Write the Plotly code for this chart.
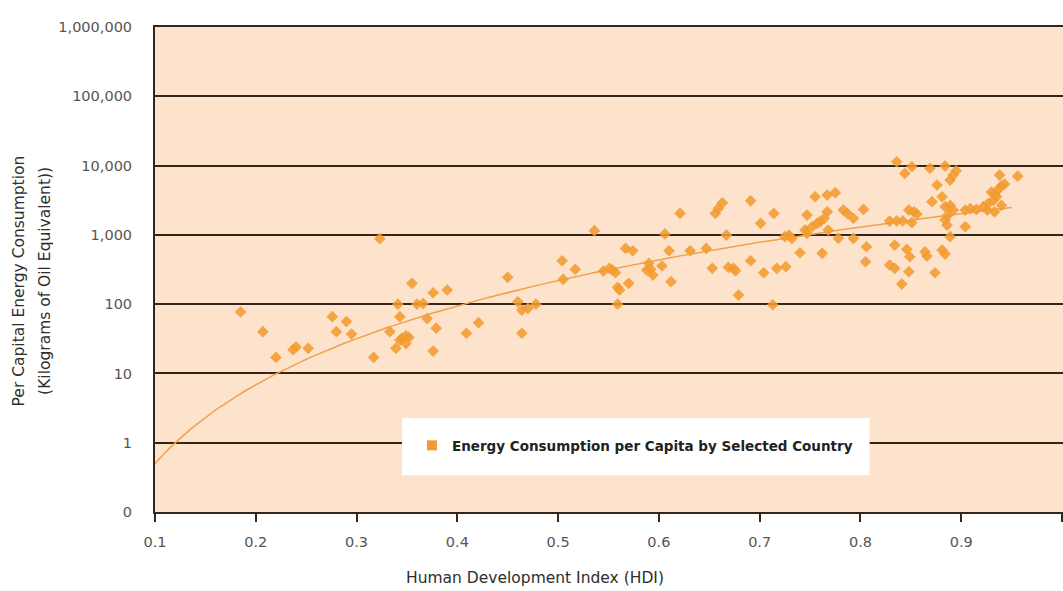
import numpy as np
import plotly.graph_objects as go

# Human Development Index of each selected country
hdi = [
    0.185, 0.207, 0.220, 0.237, 0.240, 0.252, 0.276, 0.290, 0.280, 0.295,
    0.317, 0.323, 0.333, 0.343, 0.341, 0.360, 0.366, 0.355, 0.376, 0.390,
    0.370, 0.379, 0.345, 0.349, 0.352, 0.343, 0.349, 0.339, 0.376, 0.409,
    0.421,
    0.450, 0.460, 0.464, 0.470, 0.478, 0.464, 0.504, 0.517, 0.505, 0.536,
    0.545, 0.551, 0.557, 0.554, 0.559, 0.561, 0.570, 0.559, 0.567, 0.574,
    0.588, 0.590, 0.592, 0.594, 0.603, 0.606, 0.610, 0.612, 0.621, 0.631,
    0.647, 0.653, 0.656, 0.659, 0.663, 0.667, 0.669, 0.674, 0.676, 0.679,
    0.691, 0.691, 0.701, 0.704, 0.714, 0.713, 0.717, 0.726, 0.725, 0.729,
    0.732, 0.740, 0.745, 0.747, 0.752, 0.757, 0.760, 0.764, 0.747, 0.755,
    0.767, 0.775, 0.762, 0.767, 0.778, 0.793, 0.783, 0.787, 0.803, 0.793,
    0.806, 0.805, 0.768,
    0.836, 0.851, 0.844, 0.869, 0.884, 0.895, 0.892, 0.889, 0.938, 0.956,
    0.876, 0.881, 0.871, 0.829, 0.836, 0.842, 0.851, 0.848, 0.853, 0.856,
    0.884, 0.889, 0.892, 0.887, 0.884, 0.886, 0.904, 0.909, 0.915, 0.922,
    0.927, 0.932, 0.933, 0.937, 0.940, 0.943, 0.930, 0.935, 0.926, 0.940,
    0.933, 0.904, 0.889, 0.834, 0.846, 0.849, 0.864, 0.866, 0.881, 0.884,
    0.829, 0.834, 0.848, 0.874, 0.841,
]

# Per capita energy consumption, kilograms of oil equivalent
energy = [
    77, 40, 17, 22, 24, 23, 66, 56, 40, 37,
    17, 880, 40, 66, 100, 100, 102, 200, 146, 160,
    62, 45, 32, 35, 33, 30, 27, 23, 21, 38,
    54,
    244, 108, 82, 87, 100, 38, 423, 318, 228, 1150,
    300, 329, 284, 310, 175, 160, 200, 100, 638, 590,
    310, 388, 318, 263, 355, 1030, 590, 211, 2040, 590,
    638, 329, 2040, 2410, 2900, 993, 340, 329, 303, 135,
    3100, 423, 1466, 284, 2040, 98, 329, 347, 940, 993,
    890, 552, 1172, 1050, 1310, 1466, 1545, 1730, 1930, 3550,
    3750, 4060, 541, 2150, 890, 890, 2280, 2040, 2330, 1730,
    673, 409, 1172,
    11350, 9610, 7700, 9120, 9840, 8410, 7290, 6180, 7290, 7040,
    5240, 3550, 3010, 1580, 1590, 1590, 1500, 2280, 2150, 1990,
    2550, 2660, 2280, 1930, 1640, 1380, 2280, 2400, 2330, 2550,
    2850, 3150, 3900, 4570, 5100, 5400, 4150, 3550, 2280, 2660,
    2150, 1310, 940, 713, 618, 483, 570, 494, 604, 528,
    367, 329, 294, 284, 195,
]

# Power-law trendline  energy = TREND_COEF * hdi ** TREND_EXP
TREND_COEF = 3013.0
TREND_EXP = 3.78
TREND_RANGE = (0.1, 0.95)

y_tickvals = [0.1, 1, 10, 100, 1000, 10000, 100000, 1000000]
y_ticktext = ["0", "1", "10", "100", "1,000", "10,000", "100,000", "1,000,000"]
x_tickvals = [0.1, 0.2, 0.3, 0.4, 0.5, 0.6, 0.7, 0.8, 0.9, 1.0]
x_ticktext = ["0.1", "0.2", "0.3", "0.4", "0.5", "0.6", "0.7", "0.8", "0.9", "1"]

ORANGE = "#F39B30"
PLOT_BG = "#FDE3CB"
GRID = "#35261C"
FONT = "DejaVu Sans"

trend_x = np.linspace(TREND_RANGE[0], TREND_RANGE[1], 200)
trend_y = TREND_COEF * trend_x ** TREND_EXP

fig = go.Figure()

fig.add_trace(go.Scatter(
    x=trend_x, y=trend_y, mode="lines",
    line=dict(color="#EFA14A", width=1.5),
    showlegend=False, hoverinfo="skip",
))

fig.add_trace(go.Scatter(
    x=hdi, y=energy, mode="markers",
    marker=dict(symbol="diamond", size=9, color=ORANGE, opacity=0.88,
                line=dict(width=0)),
    showlegend=False,
    name="Energy Consumption per Capita by Selected Country",
))

# legend entry drawn with a square swatch
fig.add_trace(go.Scatter(
    x=[None], y=[None], mode="markers",
    marker=dict(symbol="square", size=10, color=ORANGE),
    name="Energy Consumption per Capita by Selected Country",
    showlegend=True,
))

# white panel behind the legend
fig.add_shape(
    type="rect", xref="paper", yref="paper",
    x0=0.272, x1=0.787, y0=0.076, y1=0.194,
    fillcolor="white", line=dict(width=0), layer="above",
)

fig.update_layout(
    width=1063, height=591,
    margin=dict(l=155, r=0, t=27, b=79),
    paper_bgcolor="white",
    plot_bgcolor=PLOT_BG,
    font=dict(family=FONT, color="#444444", size=14),
    showlegend=True,
    legend=dict(
        x=0.283, y=0.137, xanchor="left", yanchor="middle",
        bgcolor="rgba(0,0,0,0)", borderwidth=0,
        font=dict(family=FONT, size=13.5, color="#222222", weight="bold"),
        itemwidth=30,
    ),
    xaxis=dict(
        range=[0.1, 1.001], tickvals=x_tickvals, ticktext=x_ticktext,
        showgrid=False, zeroline=False,
        showline=True, linecolor=GRID, linewidth=2, mirror=True,
        ticks="outside", ticklen=8, tickwidth=2, tickcolor=GRID,
        ticklabelstandoff=8,
        tickfont=dict(family=FONT, size=14.5, color="#555555"),
        automargin=False,
    ),
    yaxis=dict(
        type="log", range=[-1, 6], tickvals=y_tickvals, ticktext=y_ticktext,
        showgrid=True, gridcolor=GRID, gridwidth=2, zeroline=False,
        showline=True, linecolor=GRID, linewidth=2,
        ticks="", ticklabelstandoff=18,
        tickfont=dict(family=FONT, size=14.5, color="#555555"),
        automargin=False,
    ),
    annotations=[
        dict(text="Human Development Index (HDI)", xref="paper", yref="paper",
             x=0.4185, y=-0.136, xanchor="center", yanchor="middle",
             showarrow=False,
             font=dict(family=FONT, size=15.5, color="#2E2E2E")),
        dict(text="Per Capital Energy Consumption", xref="paper", yref="paper",
             x=-0.150, y=0.477, xanchor="center", yanchor="middle",
             textangle=-90, showarrow=False,
             font=dict(family=FONT, size=15.5, color="#2E2E2E")),
        dict(text="(Kilograms of Oil Equivalent))", xref="paper", yref="paper",
             x=-0.122, y=0.477, xanchor="center", yanchor="middle",
             textangle=-90, showarrow=False,
             font=dict(family=FONT, size=15.5, color="#2E2E2E")),
    ],
)

fig.write_html("out.html")
